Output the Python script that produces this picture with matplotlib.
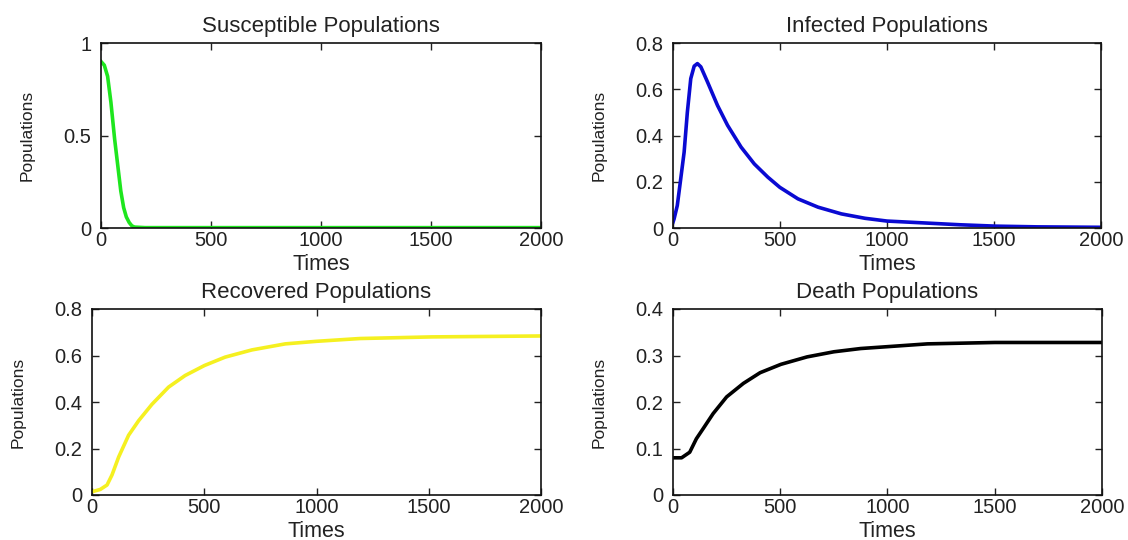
import matplotlib
matplotlib.use("Agg")
import matplotlib.pyplot as plt

# ====== DATA ======
t_sus = [0, 15, 30, 45, 62, 79, 90, 103, 115, 128, 140, 152, 200, 2000]
v_sus = [0.9, 0.88, 0.82, 0.68, 0.48, 0.31, 0.2, 0.11, 0.06, 0.03, 0.012, 0.005, 0.002, 0.002]

t_inf = [0, 5, 20, 36, 52, 67, 83, 99, 114, 130, 161, 208, 255, 318, 380, 443, 499,
         584, 678, 787, 897, 1000, 1172, 1340, 1509, 1700, 2000]
v_inf = [0.025, 0.039, 0.097, 0.212, 0.328, 0.50, 0.646, 0.70, 0.711, 0.697, 0.632, 0.53,
         0.444, 0.35, 0.277, 0.22, 0.176, 0.126, 0.09, 0.061, 0.042, 0.03, 0.022, 0.014,
         0.008, 0.005, 0.003]

t_rec = [0, 37, 67, 89, 119, 163, 208, 267, 341, 415, 501, 593, 712, 861, 1000, 1193, 1514, 2000]
v_rec = [0.014, 0.024, 0.043, 0.086, 0.164, 0.257, 0.32, 0.39, 0.464, 0.514, 0.557, 0.593,
         0.624, 0.65, 0.661, 0.673, 0.68, 0.684]

t_dea = [0, 40, 78, 109, 141, 187, 250, 328, 406, 503, 625, 750, 875, 1000, 1186, 1500, 2000]
v_dea = [0.08, 0.08, 0.092, 0.121, 0.143, 0.175, 0.211, 0.24, 0.263, 0.281, 0.297, 0.308,
         0.315, 0.319, 0.325, 0.328, 0.328]

x_ticks = [0, 500, 1000, 1500, 2000]
x_labels = ["0", "500", "1000", "1500", "2000"]

yt_sus = [0, 0.5, 1]
yl_sus = ["0", "0.5", "1"]
yt_inf = [0, 0.2, 0.4, 0.6, 0.8]
yl_inf = ["0", "0.2", "0.4", "0.6", "0.8"]
yt_rec = yt_inf
yl_rec = yl_inf
yt_dea = [0, 0.1, 0.2, 0.3, 0.4]
yl_dea = ["0", "0.1", "0.2", "0.3", "0.4"]

plt.rcParams['font.family'] = ['Liberation Sans', 'DejaVu Sans']
TXT = "#222222"

fig = plt.figure(figsize=(11.28, 5.40), dpi=100)
fig.patch.set_facecolor("white")

W, H = 1128, 540
def box(l, t, r, b):
    return [l / W, 1 - b / H, (r - l) / W, (b - t) / H]

panels = [
    (box(101, 43, 541, 228), t_sus, v_sus, "#1ee61e", "Susceptible Populations", yt_sus, yl_sus, 1.0),
    (box(673, 43, 1101, 228), t_inf, v_inf, "#0a0ad2", "Infected Populations", yt_inf, yl_inf, 0.8),
    (box(92, 309, 541, 495), t_rec, v_rec, "#f5f020", "Recovered Populations", yt_rec, yl_rec, 0.8),
    (box(673, 309, 1102, 495), t_dea, v_dea, "#000000", "Death Populations", yt_dea, yl_dea, 0.4),
]

for rect, t, v, col, title, yt, yl, ymax in panels:
    ax = fig.add_axes(rect)
    ax.plot(t, v, color=col, linewidth=2.6, solid_joinstyle="round")
    ax.set_xlim(0, 2000)
    ax.set_ylim(0, ymax)
    ax.set_xticks(x_ticks)
    ax.set_xticklabels(x_labels)
    ax.set_yticks(yt)
    ax.set_yticklabels(yl)
    ax.tick_params(direction="in", length=5, width=1, top=True, right=True,
                   labelsize=14.5, colors=TXT)
    ax.tick_params(axis="x", pad=2)
    ax.tick_params(axis="y", pad=7)
    for s in ax.spines.values():
        s.set_linewidth(1.2)
        s.set_color("#111111")
    ax.set_title(title, fontsize=16, color=TXT, pad=8)
    ax.set_xlabel("Times", fontsize=15.5, color=TXT, labelpad=3)
    ax.set_ylabel("Populations", fontsize=12.5, color=TXT)
    wpx = rect[2] * W
    ax.yaxis.set_label_coords(-66 / wpx, 0.5)

plt.savefig("out.png", dpi=100, facecolor="white")
